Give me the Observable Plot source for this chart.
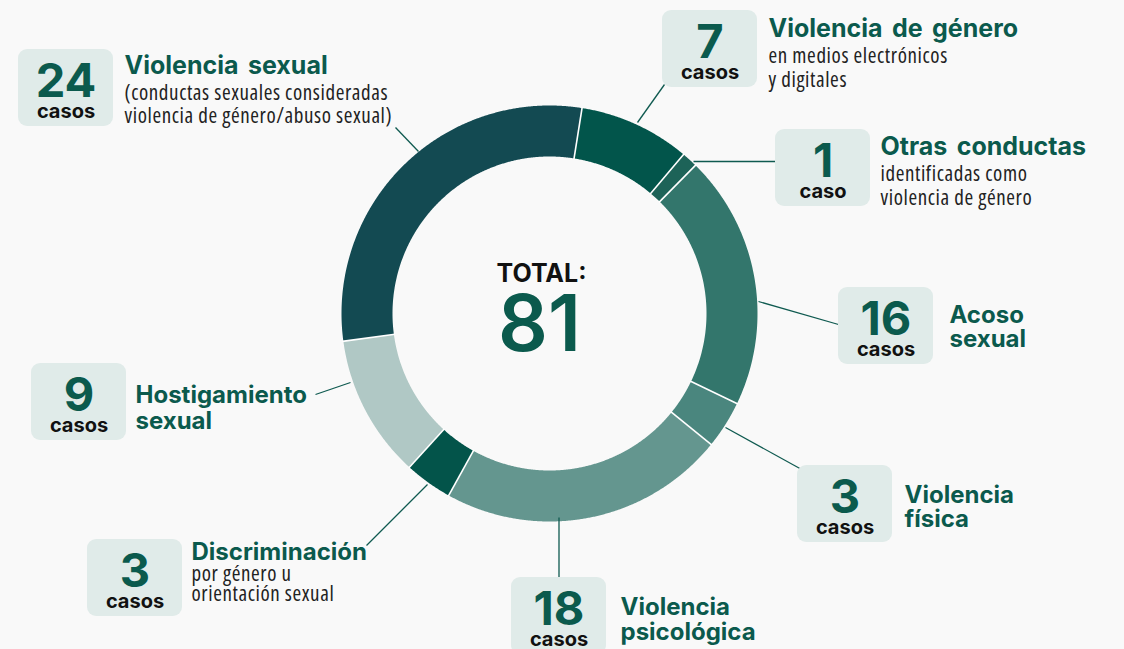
<!DOCTYPE html>
<html><head><meta charset="utf-8">
<script src="https://cdn.jsdelivr.net/npm/d3@7"></script>
<script src="https://cdn.jsdelivr.net/npm/@observablehq/plot@0.6"></script>
<style>
html,body{margin:0;padding:0;background:#f9f9f9;}
#chart{width:1124px;height:649px;overflow:hidden;}
g[font-size="25"]{word-spacing:3.5px;}
g[font-family^="'Open Sans'"]{font-stretch:75%;letter-spacing:0.6px;}
</style></head><body><div id="chart"></div>
<script>
// ---------- data ----------
const categories = ["Violencia de género","Otras conductas","Acoso sexual","Violencia física","Violencia psicológica","Discriminación","Hostigamiento sexual","Violencia sexual"];
const cases = [7, 1, 16, 3, 18, 3, 9, 24];
const colors = ["#02554b","#1d6358","#33766c","#4a867e","#64968f","#03544a","#b0c8c5","#134a52"];
const unitLabels = ["casos","caso","casos","casos","casos","casos","casos","casos"];
const titleLines = [["Violencia de género"],["Otras conductas"],["Acoso","sexual"],["Violencia","física"],["Violencia","psicológica"],["Discriminación"],["Hostigamiento","sexual"],["Violencia sexual"]];
const subLines = [["en medios electrónicos","y digitales"],["identificadas como","violencia de género"],[],[],[],["por género u","orientación sexual"],[],["(conductas sexuales consideradas","violencia de género/abuso sexual)"]];
const totalLabel = "TOTAL:";
const total = d3.sum(cases);

// ---------- layout ----------
const W = 1124, H = 649, CX = 549, CY = 313, R_OUT = 208, R_IN = 157;
const START = 9 * Math.PI / 180;
const BOX_W = 95, BOX_H = 77;
const boxPos = [[662,10],[775,129],[838,287],[797,465],[511,577],[87,539],[31,363],[18,49]];
const titlePos = [[768,36,0],[880,154,0],[949,322,24.5],[904,502,24.5],[620,614,25],[191,559,0],[135,402,26],[124,73,0]];
const bigTitle = [true, true, false, false, false, false, false, true];
const subPos = [[768,62.5,23.5],[880,180,24],null,null,null,[191,580,20.5],null,[124,99,23]];
const leaders = [[664,84,637,122],[775,161,693,161],[838,324,758,301],[803,470,725,427],[558.5,577,558.5,517],[366,545,427,484],[315,394,350,382],[395,127,418,151]];

const GREEN = "#0b5a4d";
const HEAD = "Inter, 'Liberation Sans', sans-serif";
const SUB = "'Open Sans', sans-serif";

// ---------- geometry from data ----------
const rows = categories.map((c, i) => ({cat: c, value: cases[i], color: colors[i], i}));
const arcs = d3.pie().sort(null).value(d => d.value).startAngle(START).endAngle(START + 2 * Math.PI)(rows);
const px = (r, a) => CX + r * Math.sin(a);
const py = (r, a) => CY - r * Math.cos(a);
const ringPts = [];
for (const a of arcs) {
  const n = Math.max(4, Math.ceil((a.endAngle - a.startAngle) / 0.005));
  for (let k = 0; k <= n; k++) {
    const t = a.startAngle + (a.endAngle - a.startAngle) * k / n;
    ringPts.push({cat: a.data.cat, color: a.data.color, x: px(R_OUT, t), y: py(R_OUT, t)});
  }
  for (let k = n; k >= 0; k--) {
    const t = a.startAngle + (a.endAngle - a.startAngle) * k / n;
    ringPts.push({cat: a.data.cat, color: a.data.color, x: px(R_IN, t), y: py(R_IN, t)});
  }
}
const seps = arcs.map(a => ({x1: px(R_IN - 1, a.startAngle), y1: py(R_IN - 1, a.startAngle), x2: px(R_OUT + 1, a.startAngle), y2: py(R_OUT + 1, a.startAngle)}));

const boxes = rows.map((d, i) => ({x1: boxPos[i][0], y1: boxPos[i][1], x2: boxPos[i][0] + BOX_W, y2: boxPos[i][1] + BOX_H}));
const nums = rows.map((d, i) => ({x: boxPos[i][0] + BOX_W / 2, y: boxPos[i][1] + 47, text: String(d.value)}));
const units = rows.map((d, i) => ({x: boxPos[i][0] + BOX_W / 2, y: boxPos[i][1] + 68, text: unitLabels[i]}));
const titles = [], titlesBig = [];
titleLines.forEach((ls, i) => ls.forEach((t, j) => (bigTitle[i] ? titlesBig : titles).push({x: titlePos[i][0], y: titlePos[i][1] + j * titlePos[i][2], text: t})));
const subs = [];
subLines.forEach((ls, i) => ls.forEach((t, j) => subs.push({x: subPos[i][0], y: subPos[i][1] + j * subPos[i][2], text: t})));
const links = leaders.map(l => ({x1: l[0], y1: l[1], x2: l[2], y2: l[3]}));

const chart = Plot.plot({
  width: W, height: H, margin: 0,
  x: {domain: [0, W], range: [0, W], axis: null},
  y: {domain: [0, H], range: [0, H], axis: null},
  color: {type: "identity"},
  style: {background: "transparent", overflow: "visible"},
  marks: [
    Plot.line(ringPts, {x: "x", y: "y", z: "cat", fill: "color", stroke: null, curve: "linear-closed"}),
    Plot.link(seps, {x1: "x1", y1: "y1", x2: "x2", y2: "y2", stroke: "#ffffff", strokeWidth: 1.6}),
    Plot.link(links, {x1: "x1", y1: "y1", x2: "x2", y2: "y2", stroke: "#0f5a50", strokeWidth: 1.3}),
    Plot.rect(boxes, {x1: "x1", y1: "y1", x2: "x2", y2: "y2", fill: "#e0ebe9", rx: 9}),
    Plot.text(nums, {x: "x", y: "y", text: "text", fill: GREEN, fontSize: 47, fontWeight: 700, fontFamily: HEAD, textAnchor: "middle", lineAnchor: "bottom"}),
    Plot.text(units, {x: "x", y: "y", text: "text", fill: "#111", fontSize: 20, fontWeight: 700, fontFamily: HEAD, textAnchor: "middle", lineAnchor: "bottom"}),
    Plot.text(titles, {x: "x", y: "y", text: "text", fill: GREEN, fontSize: 24, fontWeight: 700, fontFamily: HEAD, textAnchor: "start", lineAnchor: "bottom"}),
    Plot.text(titlesBig, {x: "x", y: "y", text: "text", fill: GREEN, fontSize: 25, fontWeight: 700, fontFamily: HEAD, textAnchor: "start", lineAnchor: "bottom"}),
    Plot.text(subs, {x: "x", y: "y", text: "text", fill: "#222", fontSize: 21, fontFamily: SUB, textAnchor: "start", lineAnchor: "bottom"}),
    Plot.text([{x: 541, y: 281, text: totalLabel}], {x: "x", y: "y", text: "text", fill: "#111", fontSize: 25, fontWeight: 700, fontFamily: HEAD, textAnchor: "middle", lineAnchor: "bottom"}),
    Plot.text([{x: 539, y: 350, text: String(total)}], {x: "x", y: "y", text: "text", fill: GREEN, fontSize: 78, fontWeight: 600, fontFamily: HEAD, textAnchor: "middle", lineAnchor: "bottom"})
  ]
});
document.getElementById("chart").appendChild(chart);
</script>
</body></html>
